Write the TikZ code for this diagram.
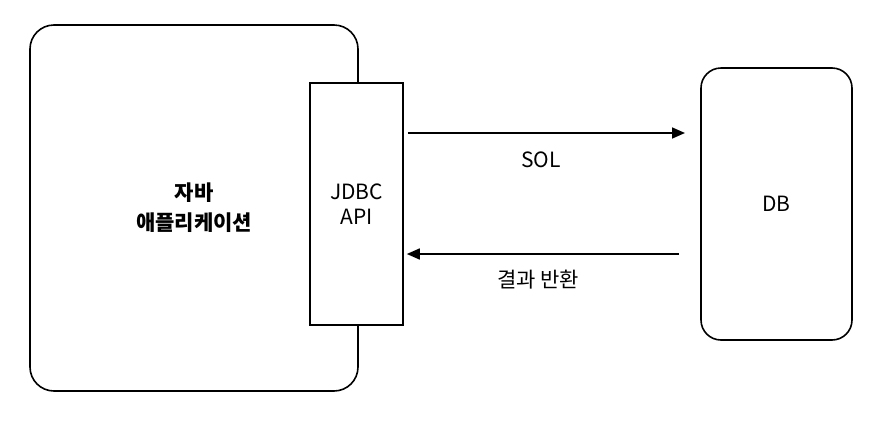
\documentclass[tikz,border=0pt]{standalone}
\usepackage{fontspec}
\setmainfont{Noto Sans CJK KR}
\usepackage{tikz}
\usetikzlibrary{positioning,arrows.meta}

\begin{document}
\begin{tikzpicture}[x=1pt, y=-1pt, font=\fontsize{21}{25}\selectfont,
  box/.style={draw=black, line width=1.6pt, rounded corners=24pt, align=center,
    fill=white, text=black},
  api/.style={box, rounded corners=0pt},
  conn/.style={draw=black, line width=1.6pt, -{Triangle[length=13pt,width=11pt]}}]
\useasboundingbox (0,0) rectangle (876,421);
\node[box, minimum width=328pt, minimum height=366pt] (app) at (194,208) {};
\node[font=\fontsize{21}{30}\selectfont\bfseries, align=center] (applbl) at (194,208) {자바\\애플리케이션};
\node[api, minimum width=93pt, minimum height=242pt] (jdbc) at (356.5,204) {JDBC\\API};
\node[box, rounded corners=20pt, minimum width=151pt, minimum height=272pt] (db) at (776.5,204) {DB};
\coordinate (sqlend) at (685,133);
\coordinate (resstart) at (679,254);
\draw[conn] (jdbc.east |- sqlend) ++(4,0) coordinate (sqlstart) -- (sqlend);
\draw[conn] (resstart) -- ([xshift=3pt]jdbc.east |- resstart);
\node (sql) at (541,160) {SOL};
\node (res) at (538,280) {결과 반환};
\end{tikzpicture}
\end{document}
